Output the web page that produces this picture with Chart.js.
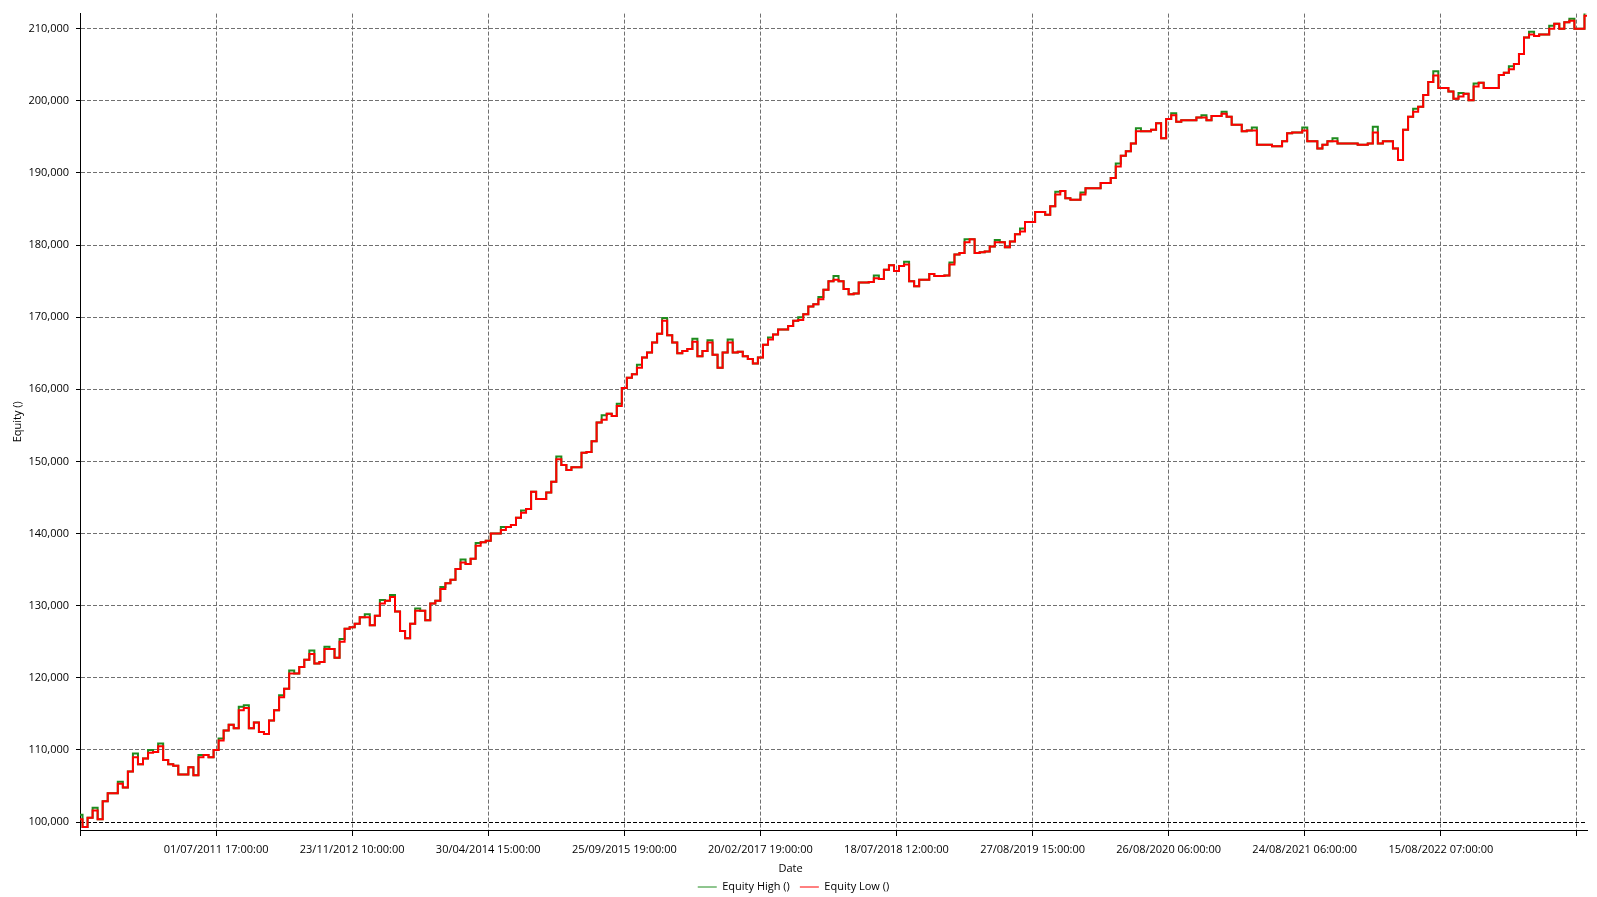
<!DOCTYPE html>
<html>
<head>
<meta charset="utf-8">
<title>Equity</title>
<script src="https://cdn.jsdelivr.net/npm/chart.js@4.4.0/dist/chart.umd.min.js"></script>
<style>
  html, body { margin: 0; padding: 0; background: #fff; }
  #wrap { width: 1597px; height: 897px; position: relative; }
</style>
</head>
<body>
<div id="wrap"><canvas id="equityChart"></canvas></div>
<script>
// tick labels shown under the x axis (first and last tick have no label)
const tickLabels = ["", "01/07/2011 17:00:00", "23/11/2012 10:00:00", "30/04/2014 15:00:00",
  "25/09/2015 19:00:00", "20/02/2017 19:00:00", "18/07/2018 12:00:00", "27/08/2019 15:00:00",
  "26/08/2020 06:00:00", "24/08/2021 06:00:00", "15/08/2022 07:00:00", ""];
const tickIndex = [0, 27, 54, 81, 108, 135, 162, 189, 216, 243, 270, 297];
const equityTicks = [100000, 110000, 120000, 130000, 140000, 150000, 160000, 170000, 180000, 190000, 200000, 210000];

const equityLow = [
  100400, 99300, 100600, 101600, 100400, 102900, 104000, 104000, 105300, 104800,
  107000, 109000, 108000, 108800, 109600, 109700, 110500, 108600, 108000, 107800,
  106600, 106600, 107600, 106500, 109000, 109300, 109000, 110000, 111300, 112700,
  113500, 113000, 115500, 115800, 113000, 113800, 112500, 112200, 114100, 115500,
  117300, 118500, 120600, 120600, 121500, 122500, 123300, 122000, 122200, 124000,
  124000, 122800, 125000, 126800, 127000, 127500, 128400, 128400, 127300, 128600,
  130300, 130700, 131200, 129200, 126500, 125500, 127500, 129300, 129300, 128000,
  130300, 130700, 132300, 133100, 133600, 135100, 136000, 135800, 136500, 138300,
  138800, 139000, 140000, 140000, 140500, 140900, 141200, 142200, 142900, 143400,
  145800, 144800, 144800, 145700, 147200, 150300, 149500, 148800, 149200, 149200,
  151200, 151300, 152800, 155400, 155800, 156600, 156300, 157700, 160200, 161600,
  162100, 163000, 164400, 165100, 166500, 167700, 169500, 167500, 166500, 165000,
  165300, 165600, 166600, 164600, 165300, 166500, 164800, 163000, 165100, 166500,
  165100, 165200, 164600, 164200, 163600, 164400, 166200, 166900, 167600, 168300,
  168300, 168800, 169500, 169600, 170400, 171500, 171800, 172500, 173800, 175000,
  175200, 175000, 173900, 173200, 173300, 174800, 174800, 174900, 175400, 175300,
  176600, 177200, 176400, 177100, 177300, 175000, 174300, 175200, 175200, 176000,
  175700, 175700, 175800, 177300, 178700, 178900, 180400, 180800, 178900, 179000,
  179100, 179800, 180400, 180400, 179700, 180500, 181500, 181900, 183200, 183200,
  184600, 184600, 184200, 185400, 187000, 187500, 186500, 186300, 186300, 187000,
  187900, 187900, 187900, 188600, 188600, 189300, 190900, 192400, 193000, 194100,
  195800, 195800, 195800, 196000, 196900, 194800, 197500, 198000, 197100, 197300,
  197300, 197300, 197700, 197700, 197300, 197900, 197900, 198200, 197800, 196700,
  196700, 195800, 195900, 195900, 193900, 193900, 193900, 193700, 193700, 194400,
  195500, 195600, 195600, 195900, 194400, 194400, 193400, 193900, 194400, 194400,
  194100, 194100, 194100, 194100, 193900, 193900, 194100, 195600, 194100, 194400,
  194400, 193400, 191800, 196000, 197800, 198500, 199200, 200800, 202600, 203500,
  201800, 201800, 201300, 200300, 200600, 201000, 200100, 202000, 202500, 201800,
  201800, 201800, 203600, 203900, 204400, 205100, 206500, 208800, 209200, 209000,
  209200, 209200, 210000, 210700, 210000, 210900, 211100, 210000, 210000, 211800
];

const equityHigh = [
  101000, 99300, 100600, 102000, 100400, 102900, 104000, 104000, 105600, 104800,
  107000, 109500, 108000, 108800, 110000, 109700, 110900, 108600, 108000, 107800,
  106600, 106600, 107600, 106500, 109300, 109300, 109000, 110000, 111600, 112700,
  113500, 113000, 116000, 116200, 113000, 113800, 112500, 112200, 114100, 115500,
  117600, 118500, 121000, 120600, 121500, 122500, 123800, 122000, 122200, 124300,
  124000, 122800, 125400, 126800, 127000, 127500, 128400, 128800, 127300, 128600,
  130800, 130700, 131500, 129200, 126500, 125500, 127500, 129600, 129300, 128000,
  130300, 130700, 132600, 133100, 133600, 135100, 136400, 135800, 136500, 138700,
  138800, 139000, 140000, 140000, 140900, 140900, 141200, 142200, 143200, 143400,
  145800, 144800, 144800, 145700, 147200, 150700, 149500, 148800, 149200, 149200,
  151200, 151300, 152800, 155400, 156400, 156600, 156300, 158000, 160200, 161600,
  162100, 163400, 164400, 165100, 166500, 167700, 169900, 167500, 166500, 165000,
  165300, 165600, 167000, 164600, 165300, 166800, 164800, 163000, 165100, 166900,
  165100, 165200, 164600, 164200, 163600, 164400, 166200, 167200, 167600, 168300,
  168300, 168800, 169500, 170000, 170400, 171500, 171800, 172800, 173800, 175000,
  175700, 175000, 173900, 173200, 173300, 174800, 174800, 174900, 175800, 175300,
  176600, 177200, 176400, 177100, 177700, 175000, 174300, 175200, 175200, 176000,
  175700, 175700, 175800, 177600, 178700, 178900, 180800, 180800, 178900, 179000,
  179100, 179800, 180700, 180400, 179700, 180500, 181500, 182300, 183200, 183200,
  184600, 184600, 184200, 185400, 187400, 187500, 186500, 186300, 186300, 187300,
  187900, 187900, 187900, 188600, 188600, 189300, 191300, 192400, 193000, 194100,
  196200, 195800, 195800, 196000, 196900, 194800, 197500, 198300, 197100, 197300,
  197300, 197300, 197700, 198000, 197300, 197900, 197900, 198500, 197800, 196700,
  196700, 195800, 195900, 196300, 193900, 193900, 193900, 193700, 193700, 194400,
  195500, 195600, 195600, 196300, 194400, 194400, 193400, 193900, 194400, 194800,
  194100, 194100, 194100, 194100, 193900, 193900, 194100, 196400, 194100, 194400,
  194400, 193400, 191800, 196000, 197800, 198900, 199200, 200800, 202600, 204100,
  201800, 201800, 201300, 200300, 201100, 201000, 200100, 202400, 202500, 201800,
  201800, 201800, 203600, 203900, 204800, 205100, 206500, 208800, 209600, 209000,
  209200, 209200, 210400, 210700, 210000, 210900, 211400, 210000, 210000, 212300
];

const toPoints = arr => arr.map((v, i) => ({ x: i, y: v }));

Chart.defaults.font.family = "'Open Sans', 'Noto Sans', sans-serif";
Chart.defaults.font.size = 11;
Chart.defaults.color = "#000";

// "Date" sits a little left of the canvas centre, not under the plot centre
const dateTitle = {
  id: "dateTitle",
  afterDraw(c) {
    const g = c.ctx;
    g.save();
    g.font = "11px 'Open Sans', 'Noto Sans', sans-serif";
    g.fillStyle = "#000";
    g.textAlign = "center";
    g.textBaseline = "middle";
    g.fillText("Date", c.width / 2 - 8, 869);
    g.restore();
  }
};

const ctx = document.getElementById("equityChart").getContext("2d");
const chart = new Chart(ctx, {
  type: "line",
  data: {
    datasets: [
      {
        label: "Equity High ()",
        data: toPoints(equityHigh),
        borderColor: "#1e8c1e",
        backgroundColor: "#1e8c1e",
        borderWidth: 2,
        pointRadius: 0,
        stepped: "middle",
        order: 1
      },
      {
        label: "Equity Low ()",
        data: toPoints(equityLow),
        borderColor: "#ff0000",
        backgroundColor: "#ff0000",
        borderWidth: 2,
        pointRadius: 0,
        stepped: "middle",
        order: 0
      }
    ]
  },
  plugins: [dateTitle],
  options: {
    responsive: true,
    maintainAspectRatio: false,
    animation: false,
    layout: { padding: { top: 12, right: 10, left: 0, bottom: 0 } },
    plugins: {
      tooltip: { enabled: false },
      legend: {
        position: "bottom",
        maxHeight: 25.5,
        labels: {
          usePointStyle: true,
          pointStyleWidth: 19,
          boxHeight: 11,
          padding: 10,
          generateLabels: c => c.data.datasets.map((ds, i) => ({
            text: ds.label,
            strokeStyle: ds.borderColor,
            fillStyle: ds.borderColor,
            lineWidth: 1,
            pointStyle: "line",
            datasetIndex: i,
            hidden: false
          }))
        }
      }
    },
    scales: {
      x: {
        type: "linear",
        min: 0,
        max: equityLow.length - 1,
        afterBuildTicks: axis => { axis.ticks = tickIndex.map(v => ({ value: v })); },
        afterFit: axis => { axis.height = 41.5; },
        ticks: {
          autoSkip: false,
          maxRotation: 0,
          padding: 7,
          callback: v => tickLabels[tickIndex.indexOf(v)]
        },
        grid: { color: "#707070", tickColor: "#000", tickLength: 6, lineWidth: 1 },
        border: { color: "#000", width: 1, dash: [4, 2] },
        title: { display: false }
      },
      y: {
        min: 98900,
        max: 212100,
        afterBuildTicks: axis => { axis.ticks = equityTicks.map(v => ({ value: v })); },
        afterFit: axis => { axis.width = 80; },
        ticks: {
          padding: 7,
          callback: v => v.toLocaleString("en-US")
        },
        grid: {
          color: c => (c.tick && c.tick.value === 100000 ? "#000" : "#707070"),
          tickColor: "#000",
          tickLength: 4,
          lineWidth: 1
        },
        border: { color: "#000", width: 1, dash: [4, 2] },
        title: { display: true, text: "Equity ()", padding: { top: 11, bottom: 0 } }
      }
    }
  }
});
</script>
</body>
</html>
